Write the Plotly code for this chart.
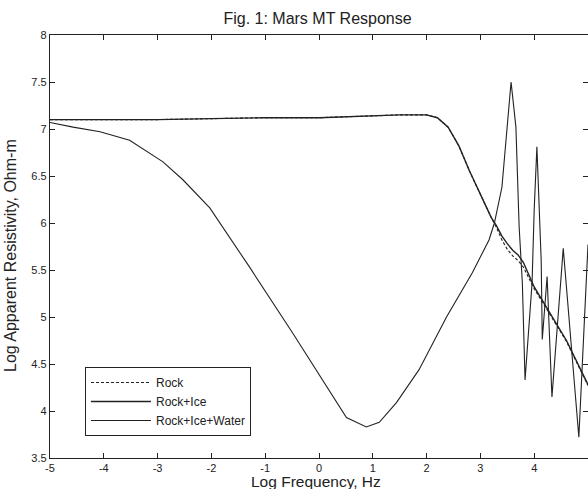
import plotly.graph_objects as go

# ---- data ----
freq_smooth = [-5, -4, -3, -2, -1, 0, 0.5, 1, 1.5, 2.0, 2.2, 2.4, 2.6, 2.8, 3.0, 3.2,
               3.3, 3.4, 3.5, 3.6, 3.7, 3.8, 4.0, 4.3, 4.6, 5.0]
rock_ice = [7.10, 7.10, 7.10, 7.11, 7.12, 7.12, 7.13, 7.14, 7.15, 7.15, 7.12, 7.02, 6.82,
            6.55, 6.30, 6.06, 5.97, 5.86, 5.78, 5.71, 5.66, 5.58, 5.32, 5.03, 4.75, 4.28]
rock = [7.10, 7.10, 7.10, 7.11, 7.12, 7.12, 7.13, 7.14, 7.15, 7.15, 7.12, 7.02, 6.82,
        6.55, 6.30, 6.06, 5.95, 5.82, 5.72, 5.65, 5.60, 5.53, 5.30, 5.02, 4.74, 4.27]

freq_water = [-5, -4.57, -4.07, -3.52, -2.90, -2.53, -2.03, -1.29, -0.49, 0.32, 0.51,
              0.88, 1.12, 1.44, 1.86, 2.37, 2.85, 3.16, 3.26, 3.40, 3.50, 3.57, 3.66,
              3.72, 3.78, 3.83, 3.96, 4.00, 4.05, 4.13, 4.15, 4.24, 4.33, 4.54, 4.83, 5.0]
rock_ice_water = [7.07, 7.02, 6.97, 6.88, 6.65, 6.46, 6.16, 5.53, 4.83, 4.09, 3.93,
                  3.83, 3.88, 4.09, 4.44, 5.00, 5.47, 5.82, 6.00, 6.38, 7.02, 7.50, 7.02,
                  5.96, 5.36, 4.33, 5.36, 6.14, 6.81, 5.60, 4.76, 5.43, 4.15, 5.73, 3.72, 5.77]

x_ticks = [-5, -4, -3, -2, -1, 0, 1, 2, 3, 4, 5]
x_tick_labels = ["-5", "-4", "-3", "-2", "-1", "0", "1", "2", "3", "4", "5"]
y_ticks = [3.5, 4, 4.5, 5, 5.5, 6, 6.5, 7, 7.5, 8]
y_tick_labels = ["3.5", "4", "4.5", "5", "5.5", "6", "6.5", "7", "7.5", "8"]

FONT = "Liberation Sans, Arial, sans-serif"
ink = "#222222"

fig = go.Figure()
fig.add_trace(go.Scatter(x=freq_smooth, y=rock, mode="lines", name="Rock",
                         line=dict(color=ink, width=1.1, dash="3px,2px")))
fig.add_trace(go.Scatter(x=freq_smooth, y=rock_ice, mode="lines", name="Rock+Ice",
                         line=dict(color=ink, width=1.4)))
fig.add_trace(go.Scatter(x=freq_water, y=rock_ice_water, mode="lines", name="Rock+Ice+Water",
                         line=dict(color=ink, width=1.1)))

axis_common = dict(showgrid=False, zeroline=False, showline=True, linecolor=ink,
                   linewidth=1.3, mirror="ticks", ticks="inside", ticklen=5,
                   tickcolor=ink, automargin=False,
                   tickfont=dict(family=FONT, size=11, color=ink))

fig.update_xaxes(range=[-5, 5], tickvals=x_ticks, ticktext=x_tick_labels, **axis_common)
fig.update_yaxes(range=[3.5, 8], tickvals=y_ticks, ticktext=y_tick_labels, **axis_common)

fig.add_annotation(text="Log Frequency, Hz", xref="paper", yref="paper",
                   x=0.494, y=-0.056, xanchor="center", yanchor="middle", showarrow=False,
                   font=dict(family=FONT, size=15.5, color=ink))
fig.add_annotation(text="Log Apparent Resistivity, Ohm-m", xref="paper", yref="paper",
                   x=-0.0725, y=0.48, xanchor="center", yanchor="middle", textangle=-90,
                   showarrow=False, font=dict(family=FONT, size=16, color=ink))

fig.update_layout(
    width=588, height=489,
    margin=dict(l=50, r=0, t=35, b=31),
    paper_bgcolor="white", plot_bgcolor="white",
    title=dict(text="Fig. 1: Mars MT Response", x=0.54, xanchor="center",
               y=0.963, yanchor="middle",
               font=dict(family=FONT, size=16, color=ink)),
    showlegend=True,
    legend=dict(x=0.065, y=0.215, xanchor="left", yanchor="top",
                bgcolor="white", bordercolor=ink, borderwidth=1,
                font=dict(family=FONT, size=12, color=ink),
                itemwidth=60, tracegroupgap=0),
)

# remove the default page margin so the figure fills the 588x489 window exactly
fig.write_html("out.html", config={"displayModeBar": False},
               post_script="document.body.style.margin='0';document.body.style.overflow='hidden';")
